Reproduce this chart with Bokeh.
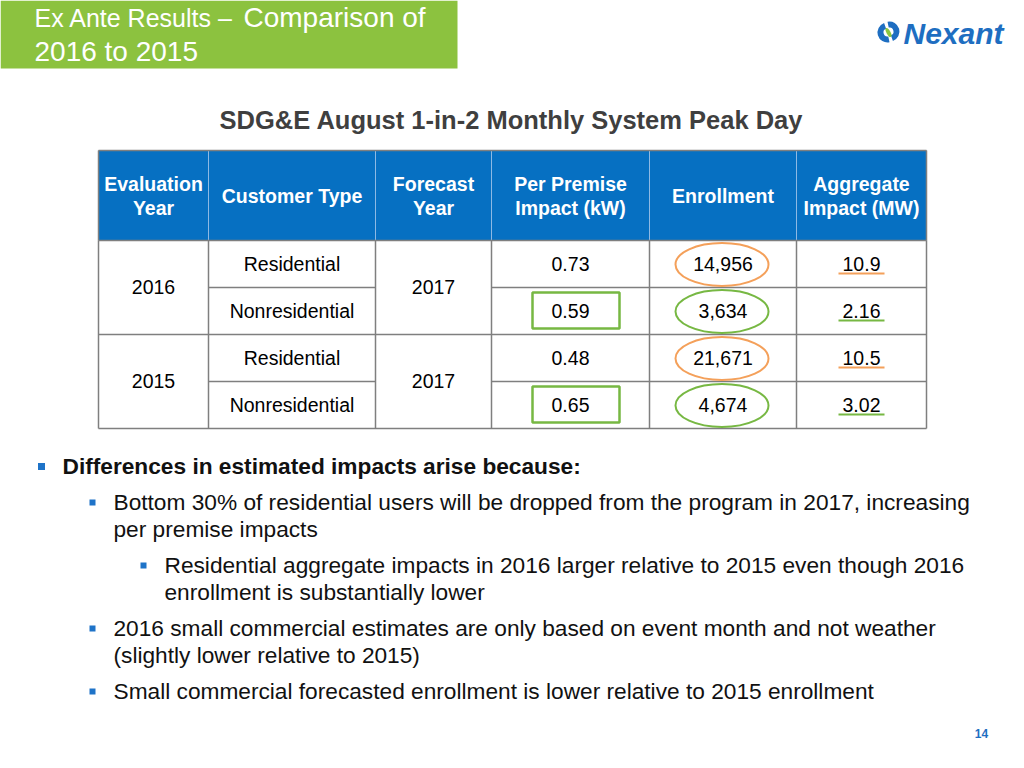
from bokeh.plotting import figure
from bokeh.models import Range1d
from bokeh.core.properties import value
from bokeh.embed import file_html
from bokeh.resources import INLINE
import math

# ---------------- data ----------------
title_part1 = "Ex Ante Results \u2013 "
title_part2 = "Comparison of"
title_line2 = "2016 to 2015"
subtitle = "SDG&E August 1-in-2 Monthly System Peak Day"
logo_text = "Nexant"
page_number = "14"

header_lines = [["Evaluation", "Year"], ["Customer Type"], ["Forecast", "Year"],
                ["Per Premise", "Impact (kW)"], ["Enrollment"], ["Aggregate", "Impact (MW)"]]
evaluation_years = ["2016", "2015"]
forecast_years = ["2017", "2017"]
customer_types = ["Residential", "Nonresidential", "Residential", "Nonresidential"]
per_premise_kw = [0.73, 0.59, 0.48, 0.65]
enrollment = [14956, 3634, 21671, 4674]
aggregate_mw = [10.9, 2.16, 10.5, 3.02]

bullet_levels = [1, 2, 3, 2, 2]
bullet_texts = [
    ["Differences in estimated impacts arise because:"],
    ["Bottom 30% of residential users will be dropped from the program in 2017, increasing",
     "per premise impacts"],
    ["Residential aggregate impacts in 2016 larger relative to 2015 even though 2016",
     "enrollment is substantially lower"],
    ["2016 small commercial estimates are only based on event month and not weather",
     "(slightly lower relative to 2015)"],
    ["Small commercial forecasted enrollment is lower relative to 2015 enrollment"],
]

# ---------------- styles ----------------
FONT = value("Liberation Sans")
GREEN_TITLE = "#8CC23F"
BLUE = "#0670C2"
GRID = "#7F7F7F"
ORANGE = "#F4A05A"
GREEN = "#77B843"
LOGO_BLUE = "#1E6EC1"

p = figure(width=1008, height=752, x_range=Range1d(0, 1008), y_range=Range1d(752, 0),
           output_backend="svg", toolbar_location=None, min_border=0,
           x_axis_location=None, y_axis_location=None)
p.grid.visible = False
p.outline_line_color = None
p.background_fill_color = "white"
p.border_fill_color = "white"


def txt(x, yb, t, size, color="black", style="normal", align="center"):
    """Place text by its baseline yb (converted to a middle anchor)."""
    s = float(size.replace("px", ""))
    p.text(x=[x], y=[yb - 0.38 * s], text=[t], text_font=FONT, text_font_size=value(size),
           text_color=color, text_font_style=style, text_align=align, text_baseline="middle")


# ---------------- title ----------------
p.quad(left=[0], right=[457], top=[0], bottom=[68], fill_color=GREEN_TITLE, line_color=None)
txt(34, 27, title_part1, "25px", "white", align="left")
txt(243, 28, title_part2, "28px", "white", align="left")
txt(34, 62, title_line2, "28px", "white", align="left")

# logo
p.annular_wedge(x=[887], y=[32], inner_radius=4, outer_radius=10,
                start_angle=math.pi / 2 + 0.35, end_angle=3 * math.pi / 2 + 0.2,
                fill_color=LOGO_BLUE, line_color=None)
p.annular_wedge(x=[889], y=[31], inner_radius=4, outer_radius=10,
                start_angle=-math.pi / 2 + 0.35, end_angle=math.pi / 2 + 0.2,
                fill_color=LOGO_BLUE, line_color=None)
p.ellipse(x=[888], y=[32], width=4, height=10, angle=0.5, fill_color="#8CC63F", line_color=None)
txt(903, 44, logo_text, "30px", LOGO_BLUE, style="bold italic", align="left")

# subtitle
txt(511, 129, subtitle, "25.5px", "#3F3F3F", style="bold")

# ---------------- table ----------------
col_edges = [98, 208, 375, 491, 649, 796, 926]
head_top, head_bot = 150, 240
row_edges = [240, 287, 334, 381, 428]
col_c = [(col_edges[i] + col_edges[i + 1]) / 2 for i in range(6)]
row_c = [(row_edges[i] + row_edges[i + 1]) / 2 for i in range(4)]

p.quad(left=[col_edges[0]], right=[col_edges[-1]], top=[head_top], bottom=[head_bot],
       fill_color=BLUE, line_color=None)
p.segment(x0=col_edges[1:-1], y0=[head_top] * 5, x1=col_edges[1:-1], y1=[head_bot] * 5,
          line_color="#8DB9E4", line_width=1)
for i, lines in enumerate(header_lines):
    if len(lines) == 2:
        txt(col_c[i], 191, lines[0], "19.5px", "white", style="bold")
        txt(col_c[i], 215, lines[1], "19.5px", "white", style="bold")
    else:
        txt(col_c[i], 203, lines[0], "19.5px", "white", style="bold")

L, R = col_edges[0], col_edges[-1]
hx0, hx1, hy = [], [], []
for y in [row_edges[0], row_edges[2], row_edges[4]]:
    hx0.append(L); hx1.append(R); hy.append(y)
for y in [row_edges[1], row_edges[3]]:
    hx0 += [col_edges[1], col_edges[3]]
    hx1 += [col_edges[2], col_edges[6]]
    hy += [y, y]
p.segment(x0=hx0, y0=hy, x1=hx1, y1=hy, line_color=GRID, line_width=1.5)
p.segment(x0=col_edges, y0=[head_bot] * 7, x1=col_edges, y1=[row_edges[-1]] * 7,
          line_color=GRID, line_width=1.5)
p.segment(x0=[L, L, R], y0=[head_top, head_top, head_top], x1=[R, L, R], y1=[head_top, head_bot, head_bot],
          line_color=GRID, line_width=1.5)

SZ = "19.5px"
for g in range(2):
    yc = (row_edges[2 * g] + row_edges[2 * g + 2]) / 2
    txt(col_c[0], yc + 7, evaluation_years[g], SZ)
    txt(col_c[2], yc + 7, forecast_years[g], SZ)
for r in range(4):
    yb = row_c[r] + 7.5
    txt(col_c[1], yb, customer_types[r], SZ)
    txt(col_c[3], yb, f"{per_premise_kw[r]:.2f}", SZ)
    txt(col_c[4], yb, f"{enrollment[r]:,}", SZ)
    txt(col_c[5], yb, f"{aggregate_mw[r]:g}", SZ)

# annotations
rc = [ORANGE if t == "Residential" else GREEN for t in customer_types]
p.ellipse(x=[col_c[4] - 1] * 4, y=[r + 0.5 for r in row_c], width=93, height=43,
          fill_color=None, line_color=rc, line_width=2)
non = [i for i, t in enumerate(customer_types) if t != "Residential"]
p.rect(x=[575.5] * len(non), y=[row_c[i] - 0.5 for i in non], width=87, height=36,
       fill_color=None, line_color=GREEN, line_width=2.5)
p.segment(x0=[838] * 4, y0=[r + 9.5 for r in row_c], x1=[884] * 4, y1=[r + 9.5 for r in row_c],
          line_color=rc, line_width=2)

# ---------------- bullets ----------------
level_sq_x = {1: 41, 2: 92, 3: 143}
level_tx = {1: 62, 2: 113, 3: 164}
baselines = [[474], [510, 537], [573, 600], [636, 663], [699]]
sq_x, sq_y, sq_s = [], [], []
for lev, lines, bl in zip(bullet_levels, bullet_texts, baselines):
    sq_x.append(level_sq_x[lev]); sq_y.append(bl[0] - 8); sq_s.append(7 if lev == 1 else 6)
    for ln, yb in zip(lines, bl):
        txt(level_tx[lev], yb, ln, "22.7px", "#111111",
            style="bold" if lev == 1 else "normal", align="left")
p.rect(x=sq_x, y=sq_y, width=sq_s, height=sq_s, fill_color="#1E73C8", line_color=None)

txt(981, 738, page_number, "12px", LOGO_BLUE, style="bold")

open("out.html", "w").write(file_html(p, INLINE))
